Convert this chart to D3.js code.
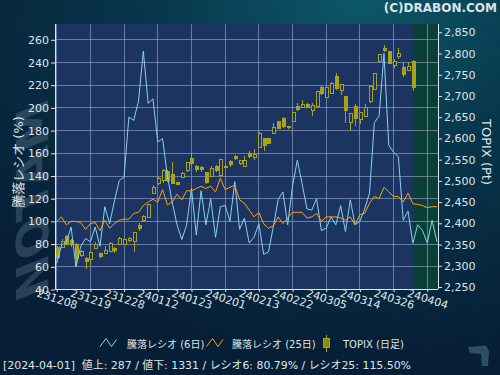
<!DOCTYPE html>
<html>
<head>
<meta charset="utf-8">
<script src="https://cdn.jsdelivr.net/npm/d3@7"></script>
<style>
  html, body { margin: 0; padding: 0; background: #062036; }
  svg { display: block; }
</style>
</head>
<body>
<div id="chart"></div>
<script>
// ---- data ----------------------------------------------------------
const dates = [
  '231208','231211','231212','231213','231214','231215','231218','231219','231220','231221',
  '231222','231225','231226','231227','231228','231229','240104','240105','240109','240110',
  '240111','240112','240115','240116','240117','240118','240119','240122','240123','240124',
  '240125','240126','240129','240130','240131','240201','240202','240205','240206','240207',
  '240208','240209','240213','240214','240215','240216','240219','240220','240221','240222',
  '240226','240227','240228','240229','240301','240304','240305','240306','240307','240308',
  '240311','240312','240313','240314','240315','240318','240319','240321','240322','240325',
  '240326','240327','240328','240329','240401','240402','240403','240404','240405','240408'
];

// 騰落レシオ 6日 (%)
const ratio6 = [
  63, 79, 82, 95, 60, 78, 85, 82, 95, 78,
  113, 98, 118, 136, 139, 192, 189, 206, 250, 204,
  208, 170, 173, 140, 117, 97, 84, 97, 129, 88,
  127, 97, 120, 86, 113, 114, 100, 135, 93, 103,
  81, 86, 98, 71, 73, 95, 119, 126, 97, 131,
  154, 133, 111, 110, 120, 92, 94, 104, 97, 114,
  91, 119, 97, 100, 111, 125, 187, 193, 248, 167,
  161, 157, 101, 109, 80.79, 97, 92, 81, 101, 82
];

// 騰落レシオ 25日 (%)
const ratio25 = [
  99.7, 104, 97, 100, 100, 99, 93, 98, 99, 92,
  101, 94, 98, 101, 102, 102, 107, 108, 114, 117,
  119.5, 117, 128, 114.5, 117, 124, 119, 127, 127, 129,
  131, 129, 131, 126, 138, 128, 130, 132, 119, 116,
  110, 104, 108, 98, 94, 96, 104, 98, 103, 108,
  108, 108, 103, 104, 107, 100, 104, 104, 104, 103,
  101, 104, 97, 106, 107, 116, 122, 120, 130, 126,
  122, 122, 117, 125, 115.5, 115, 114, 112, 113, 113
];

// TOPIX daily candles (up to 2024-04-01)
const topixOpen = [
  2343, 2343, 2369, 2359, 2349, 2324, 2316, 2314, 2341, 2328,
  2329, 2334, 2341, 2350, 2351, 2359, 2358, 2395, 2406, 2414,
  2471, 2494, 2500, 2522, 2514, 2496, 2508, 2524, 2552, 2534,
  2532, 2519, 2510, 2534, 2512, 2535, 2546, 2558, 2541, 2535,
  2565, 2555, 2579, 2599, 2599, 2612, 2639, 2647, 2628, 2640,
  2676, 2673, 2680, 2665, 2676, 2719, 2697, 2707, 2745, 2713,
  2698, 2638, 2676, 2644, 2652, 2687, 2716, 2781, 2813, 2804,
  2772, 2793, 2767, 2760, 2782
];
const topixHigh = [
  2347, 2363, 2373, 2363, 2353, 2337, 2320, 2335, 2355, 2331,
  2347, 2356, 2344, 2368, 2365, 2368, 2380, 2400, 2420, 2446,
  2490, 2508, 2528, 2525, 2544, 2497, 2521, 2545, 2565, 2537,
  2534, 2520, 2534, 2537, 2552, 2537, 2549, 2560, 2550, 2559,
  2570, 2575, 2614, 2602, 2601, 2636, 2641, 2650, 2630, 2663,
  2684, 2691, 2683, 2683, 2712, 2724, 2722, 2732, 2753, 2728,
  2698, 2658, 2680, 2662, 2681, 2724, 2752, 2799, 2821, 2805,
  2786, 2813, 2779, 2779, 2785
];
const topixLow = [
  2316, 2342, 2350, 2345, 2296, 2320, 2292, 2302, 2339, 2318,
  2328, 2333, 2330, 2348, 2349, 2356, 2333, 2383, 2403, 2412,
  2469, 2491, 2496, 2498, 2494, 2490, 2506, 2522, 2536, 2522,
  2520, 2493, 2508, 2522, 2510, 2529, 2533, 2548, 2537, 2532,
  2553, 2550, 2577, 2571, 2586, 2610, 2622, 2624, 2622, 2638,
  2665, 2671, 2671, 2654, 2674, 2702, 2695, 2705, 2715, 2702,
  2636, 2617, 2630, 2634, 2652, 2684, 2713, 2779, 2804, 2775,
  2767, 2788, 2744, 2758, 2712
];
const topixClose = [
  2320, 2358, 2351, 2350, 2316, 2333, 2311, 2332, 2351, 2321,
  2337, 2352, 2336, 2365, 2362, 2365, 2379, 2387, 2416, 2444,
  2485, 2505, 2524, 2500, 2494, 2492, 2518, 2543, 2540, 2526,
  2527, 2495, 2530, 2524, 2550, 2531, 2538, 2552, 2547, 2549,
  2557, 2562, 2612, 2583, 2589, 2625, 2624, 2629, 2625, 2661,
  2669, 2679, 2673, 2678, 2710, 2705, 2720, 2730, 2717, 2726,
  2665, 2658, 2647, 2662, 2672, 2722, 2752, 2797, 2807, 2777,
  2781, 2799, 2750, 2769, 2720
];

const leftTicks = [40, 60, 80, 100, 120, 140, 160, 180, 200, 220, 240, 260];
const rightTicks = [2250, 2300, 2350, 2400, 2450, 2500, 2550, 2600, 2650, 2700, 2750, 2800, 2850];
const xTickDates = ['231208','231219','231228','240112','240123','240201','240213','240222','240305','240314','240326','240404'];
const latestDate = '240401';

// status line pieces: [text, isCJK]
const statusParts = [
  ['[2024-04-01]\u00a0\u00a0', false], ['値上', true], [': 287 / ', false],
  ['値下', true], [': 1331 / ', false], ['レシオ', true], ['6: 80.79% / ', false],
  ['レシオ', true], ['25: 115.50%', false]
];

// ---- layout --------------------------------------------------------
const W = 500, H = 375;
const plot = { left: 55, right: 438, top: 24, bottom: 289 };
const LATIN = '"DejaVu Sans", sans-serif';
const FONT = '"DejaVu Sans", "Noto Sans CJK JP", sans-serif';
const CJK = '"Noto Sans CJK JP", sans-serif';
const TXT = '#dfe4ea';

const svg = d3.select('#chart').append('svg')
  .attr('width', W).attr('height', H)
  .attr('viewBox', `0 0 ${W} ${H}`);

const defs = svg.append('defs');
const bg = defs.append('radialGradient').attr('id', 'bg')
  .attr('cx', '72%').attr('cy', '0%').attr('r', '95%');
bg.append('stop').attr('offset', '0%').attr('stop-color', '#0c5868');
bg.append('stop').attr('offset', '45%').attr('stop-color', '#08354b');
bg.append('stop').attr('offset', '100%').attr('stop-color', '#061f36');

defs.append('clipPath').attr('id', 'clip')
  .append('rect')
  .attr('x', plot.left).attr('y', plot.top)
  .attr('width', plot.right - plot.left).attr('height', plot.bottom - plot.top);

svg.append('rect').attr('width', W).attr('height', H).attr('fill', 'url(#bg)');

// Scales
const x = d3.scalePoint().domain(dates).range([56.7, 436.9]);
const yL = d3.scaleLinear().domain([40, 260]).range([289.5, 39.8]);
const yR = d3.scaleLinear().domain([2250, 2850]).range([287, 32.3]);

// Watermark (big slanted logo text behind the left axis)
svg.append('text')
  .attr('transform', 'translate(48,292) rotate(-90) skewX(22)')
  .attr('textLength', 196).attr('lengthAdjust', 'spacingAndGlyphs')
  .style('font-family', LATIN).style('font-size', '44px').style('font-weight', 'bold')
  .attr('fill', '#7f9aab').attr('opacity', 0.28)
  .text('NOTAM');

// Plot background + latest-week band
svg.append('rect')
  .attr('x', plot.left).attr('y', plot.top)
  .attr('width', plot.right - plot.left).attr('height', plot.bottom - plot.top)
  .attr('fill', '#1b3461');

svg.append('rect')
  .attr('x', x(latestDate)).attr('y', plot.top)
  .attr('width', plot.right - x(latestDate)).attr('height', plot.bottom - plot.top)
  .attr('fill', '#093f36');

// Grid
const grid = svg.append('g').attr('shape-rendering', 'crispEdges')
  .attr('stroke', '#8c9bbb').attr('stroke-opacity', 0.7).attr('stroke-width', 1);
grid.selectAll('.gy').data(leftTicks.filter(t => t > 40)).join('line')
  .attr('x1', plot.left).attr('x2', plot.right)
  .attr('y1', d => yL(d)).attr('y2', d => yL(d));
grid.selectAll('.gx').data(xTickDates).join('line')
  .attr('x1', d => x(d)).attr('x2', d => x(d))
  .attr('y1', plot.top).attr('y2', plot.bottom);

// Candles
const candles = dates.slice(0, topixOpen.length).map((d, i) => ({
  date: d, o: topixOpen[i], h: topixHigh[i], l: topixLow[i], c: topixClose[i]
}));
const OLIVE = '#a9a318';
const cg = svg.append('g').attr('clip-path', 'url(#clip)').attr('shape-rendering', 'crispEdges');
cg.selectAll('.wick').data(candles).join('line')
  .attr('x1', d => Math.round(x(d.date)) + 0.5).attr('x2', d => Math.round(x(d.date)) + 0.5)
  .attr('y1', d => yR(d.h)).attr('y2', d => yR(d.l))
  .attr('stroke', OLIVE);
cg.selectAll('.body').data(candles).join('rect')
  .attr('x', d => Math.round(x(d.date)) - 1)
  .attr('y', d => yR(Math.max(d.o, d.c)))
  .attr('width', 3)
  .attr('height', d => Math.max(1, Math.abs(yR(d.o) - yR(d.c))))
  .attr('fill', d => d.c < d.o ? OLIVE : '#1b3461')
  .attr('stroke', OLIVE).attr('stroke-width', 1);

// Ratio lines
const line = d3.line().x((d, i) => x(dates[i])).y(d => yL(d));
const lg = svg.append('g').attr('clip-path', 'url(#clip)').attr('fill', 'none');
lg.append('path').datum(ratio6).attr('d', line)
  .attr('stroke', '#86d2f2').attr('stroke-width', 1);
lg.append('path').datum(ratio25).attr('d', line)
  .attr('stroke', '#ffa205').attr('stroke-width', 1);

// Axes
function styleAxis(g) {
  g.select('.domain').remove();
  g.selectAll('line').attr('stroke', TXT);
  g.selectAll('text').attr('fill', TXT).style('font-family', LATIN).style('font-size', '11px');
}

svg.append('g').attr('transform', `translate(${plot.left},0)`)
  .call(d3.axisLeft(yL).tickValues(leftTicks).tickSize(4).tickPadding(2).tickSizeOuter(0))
  .call(styleAxis);

svg.append('g').attr('transform', `translate(${plot.right},0)`)
  .call(d3.axisRight(yR).tickValues(rightTicks).tickSize(4).tickPadding(2).tickSizeOuter(0)
    .tickFormat(d3.format(',')))
  .call(styleAxis);

svg.append('g').attr('transform', `translate(0,${plot.bottom})`)
  .call(d3.axisBottom(x).tickValues(xTickDates).tickSize(3).tickSizeOuter(0))
  .call(styleAxis)
  .call(g => g.selectAll('text')
    .attr('y', 0).attr('dy', '0.35em')
    .attr('transform', 'translate(0,10) rotate(18)')
    .attr('text-anchor', 'middle'));

const frame = svg.append('g').attr('stroke', TXT).attr('shape-rendering', 'crispEdges');
frame.append('line').attr('x1', plot.left).attr('x2', plot.left).attr('y1', plot.top).attr('y2', plot.bottom);
frame.append('line').attr('x1', plot.right).attr('x2', plot.right).attr('y1', plot.top).attr('y2', plot.bottom);
frame.append('line').attr('x1', plot.left).attr('x2', plot.right).attr('y1', plot.bottom).attr('y2', plot.bottom);

// Axis titles
svg.append('text')
  .attr('transform', 'translate(23,162) rotate(-90)')
  .attr('text-anchor', 'middle').attr('fill', TXT)
  .style('font-family', FONT).style('font-size', '13px')
  .text('騰落レシオ (%)');

svg.append('text')
  .attr('transform', 'translate(482,152) rotate(90)')
  .attr('text-anchor', 'middle').attr('fill', TXT)
  .style('font-family', LATIN).style('font-size', '13px')
  .text('TOPIX (Pt)');

// Copyright
svg.append('text')
  .attr('x', 497).attr('y', 12).attr('text-anchor', 'end')
  .attr('fill', '#dce3ea')
  .style('font-family', LATIN).style('font-size', '12px').style('font-weight', 'bold')
  .text('(C)DRABON.COM');

// Legend
const legend = svg.append('g').style('font-family', FONT).style('font-size', '10px').attr('fill', TXT);
const zig = [[0, 8], [6, 0], [11.5, 8], [16.5, 1]];
legend.append('path').attr('d', d3.line()(zig)).attr('transform', 'translate(100,338.5)')
  .attr('fill', 'none').attr('stroke', '#86d2f2');
legend.append('text').attr('x', 127).attr('y', 348).text('騰落レシオ (6日)');
legend.append('path').attr('d', d3.line()(zig)).attr('transform', 'translate(206.5,338.5)')
  .attr('fill', 'none').attr('stroke', '#ffa205');
legend.append('text').attr('x', 232).attr('y', 348).text('騰落レシオ (25日)');
legend.append('line').attr('x1', 326.5).attr('x2', 326.5).attr('y1', 335).attr('y2', 352).attr('stroke', OLIVE);
legend.append('rect').attr('x', 323.5).attr('y', 338.5).attr('width', 6).attr('height', 9)
  .attr('fill', '#8c8a10').attr('stroke', OLIVE);
legend.append('text').attr('x', 343).attr('y', 348).text('TOPIX (日足)');

// Status line
const status = svg.append('text')
  .attr('x', 3).attr('y', 369).attr('fill', TXT)
  .style('font-size', '11px');
status.selectAll('tspan').data(statusParts).join('tspan')
  .style('font-family', d => d[1] ? CJK : LATIN)
  .text(d => d[0]);
if (status.node().getComputedTextLength() > 410) {
  status.attr('textLength', 408).attr('lengthAdjust', 'spacingAndGlyphs');
}

// Corner mark
svg.append('path')
  .attr('d', 'M468,347 L486,345.5 L489,351 L488,366 L482,366 L481,354 L470,353 Z')
  .attr('fill', '#2d4f62');
</script>
</body>
</html>
